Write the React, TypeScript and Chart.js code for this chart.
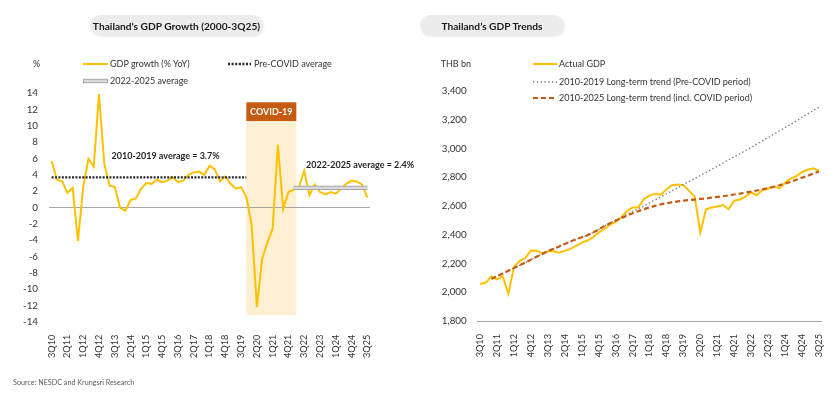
import React, { useEffect, useRef } from "react";
import { Chart, registerables } from "chart.js";

Chart.register(...registerables);

// ---------- DATA ----------
const quarters: string[] = [
  "3Q10", "4Q10",
  "1Q11", "2Q11", "3Q11", "4Q11",
  "1Q12", "2Q12", "3Q12", "4Q12",
  "1Q13", "2Q13", "3Q13", "4Q13",
  "1Q14", "2Q14", "3Q14", "4Q14",
  "1Q15", "2Q15", "3Q15", "4Q15",
  "1Q16", "2Q16", "3Q16", "4Q16",
  "1Q17", "2Q17", "3Q17", "4Q17",
  "1Q18", "2Q18", "3Q18", "4Q18",
  "1Q19", "2Q19", "3Q19", "4Q19",
  "1Q20", "2Q20", "3Q20", "4Q20",
  "1Q21", "2Q21", "3Q21", "4Q21",
  "1Q22", "2Q22", "3Q22", "4Q22",
  "1Q23", "2Q23", "3Q23", "4Q23",
  "1Q24", "2Q24", "3Q24", "4Q24",
  "1Q25", "2Q25", "3Q25",
];

// GDP growth, % YoY
const gdpGrowth: number[] = [
  5.7, 3.4,
  3.2, 1.8, 2.4, -4.1,
  2.5, 6.0, 5.0, 13.9,
  5.4, 2.7, 2.5, 0.0,
  -0.4, 0.9, 1.1, 2.3,
  3.0, 2.9, 3.4, 3.1,
  3.3, 3.7, 3.1, 3.3,
  4.0, 4.3, 4.4, 4.0,
  5.1, 4.7, 3.2, 3.8,
  2.9, 2.3, 2.5, 1.3,
  -2.1, -12.2, -6.3, -4.3,
  -2.6, 7.7, -0.2, 1.9,
  2.2, 2.5, 4.5, 1.5,
  2.8, 1.9, 1.6, 1.9,
  1.7, 2.3, 2.9, 3.3,
  3.2, 2.8, 1.2,
];

const preCovidAverage = 3.7;
const preCovidSpan: [string, string] = ["3Q10", "4Q19"];
const recentAverage = 2.4;
const recentSpan: [string, string] = ["1Q22", "3Q25"];
const covidSpan: [string, string] = ["4Q19", "1Q22"];

const growthTicks = { min: -14, max: 14, step: 2 };

// Actual GDP, THB bn
const actualGdp: number[] = [
  2057, 2066,
  2110, 2090, 2110, 1990,
  2175, 2218, 2238, 2290,
  2288, 2270, 2285, 2285,
  2275, 2288, 2302, 2322,
  2345, 2360, 2382, 2415,
  2440, 2470, 2490, 2520,
  2565, 2590, 2590, 2648,
  2672, 2685, 2678, 2715,
  2745, 2750, 2745, 2705,
  2665, 2414, 2577, 2590,
  2597, 2607, 2577, 2637,
  2645, 2665, 2695, 2675,
  2712, 2720, 2735, 2722,
  2762, 2790, 2808, 2835,
  2852, 2862, 2845,
];

// 2010-2019 long-term trend (pre-COVID period)
const trendPreCovid: (number | null)[] = [
  null, null,
  2093, 2112, 2131, 2150,
  2169, 2188, 2207, 2227,
  2247, 2266, 2285, 2302,
  2319, 2336, 2353, 2368,
  2382, 2397, 2415, 2437,
  2460, 2482, 2501, 2521,
  2541, 2561, 2581, 2601,
  2622, 2643, 2664, 2685,
  2706, 2727, 2749, 2770,
  2791, 2812, 2833, 2855,
  2876, 2898, 2920, 2942,
  2964, 2986, 3008, 3030,
  3053, 3076, 3099, 3122,
  3145, 3168, 3192, 3216,
  3240, 3263, 3287,
];

// 2010-2025 long-term trend (incl. COVID period)
const trendFull: (number | null)[] = [
  null, null,
  2093, 2112, 2131, 2150,
  2169, 2188, 2207, 2227,
  2247, 2266, 2285, 2302,
  2319, 2336, 2353, 2368,
  2382, 2397, 2415, 2437,
  2460, 2480, 2498, 2516,
  2533, 2549, 2564, 2578,
  2590, 2601, 2611, 2619,
  2626, 2632, 2637, 2641,
  2645, 2649, 2653, 2658,
  2663, 2668, 2674, 2680,
  2686, 2693, 2700, 2708,
  2716, 2725, 2734, 2744,
  2756, 2768, 2782, 2796,
  2810, 2825, 2840,
];

const gdpTicks = { min: 1800, max: 3400, step: 200 };

// ---------- STYLE ----------
const FONT = "Lato, 'Open Sans', sans-serif";
const TEXT = "#333333";
const GOLD = "#FFC000";
const RUST = "#C55A11";

function spanSeries(value: number, span: [string, string]): (number | null)[] {
  const a = quarters.indexOf(span[0]);
  const b = quarters.indexOf(span[1]);
  return quarters.map((_, i) => (i >= a && i <= b ? value : null));
}

const xTickCallback = (_v: any, idx: number) => (idx % 3 === 0 ? quarters[idx] : "");

const covidPlugin = {
  id: "covidBand",
  beforeDraw(chart: any) {
    const { ctx, scales } = chart;
    const x = scales.x;
    const y = scales.y;
    const a = quarters.indexOf(covidSpan[0]);
    const b = quarters.indexOf(covidSpan[1]);
    const half = (x.getPixelForValue(1) - x.getPixelForValue(0)) / 2;
    const left = x.getPixelForValue(a);
    const right = x.getPixelForValue(b) + half;
    const top = y.getPixelForValue(12.9);
    const headBottom = y.getPixelForValue(10.6);
    const bottom = y.getPixelForValue(-13.2);
    ctx.save();
    ctx.fillStyle = "#FDEFD2";
    ctx.fillRect(left, headBottom, right - left, bottom - headBottom);
    ctx.fillStyle = RUST;
    ctx.fillRect(left, top, right - left, headBottom - top);
    ctx.fillStyle = "#ffffff";
    ctx.font = `bold 9px ${FONT}`;
    ctx.textAlign = "center";
    ctx.textBaseline = "middle";
    ctx.fillText("COVID-19", (left + right) / 2, (top + headBottom) / 2 + 0.5);
    ctx.restore();
  },
};

const notesPlugin = {
  id: "avgNotes",
  afterDatasetsDraw(chart: any) {
    const { ctx, scales } = chart;
    const x = scales.x;
    const y = scales.y;
    ctx.save();
    ctx.fillStyle = "#262626";
    ctx.font = `bold 9px ${FONT}`;
    ctx.textAlign = "center";
    ctx.textBaseline = "middle";
    ctx.fillText(`2010-2019 average = ${preCovidAverage}%`, x.getPixelForValue(21.65), y.getPixelForValue(6.3));
    ctx.fillText(`2022-2025 average = ${recentAverage}%`, x.getPixelForValue(58.6), y.getPixelForValue(5.2));
    ctx.restore();
  },
};

function GrowthChart() {
  const ref = useRef<HTMLCanvasElement>(null);
  useEffect(() => {
    const chart = new Chart(ref.current!, {
      type: "line",
      data: {
        labels: quarters,
        datasets: [
          {
            label: "Pre-COVID average",
            data: spanSeries(preCovidAverage, preCovidSpan),
            borderColor: "#262626",
            borderWidth: 2.3,
            borderDash: [2, 1.4],
            pointRadius: 0,
            order: 0,
          },
          {
            label: "2022-2025 average",
            data: spanSeries(recentAverage, recentSpan),
            borderColor: "#D9D9D9",
            borderWidth: 2.2,
            pointRadius: 0,
            order: 0,
          },
          {
            label: "2022-2025 average outline",
            data: spanSeries(recentAverage, recentSpan),
            borderColor: "#A6A6A6",
            borderWidth: 4.4,
            pointRadius: 0,
            order: 1,
          },
          {
            label: "GDP growth (% YoY)",
            data: gdpGrowth,
            borderColor: GOLD,
            borderWidth: 2,
            pointRadius: 0,
            tension: 0,
            order: 2,
          },
        ],
      },
      options: {
        responsive: false,
        animation: false,
        events: [],
        layout: { padding: { top: 93.3, right: 50, left: 0, bottom: 0 } },
        plugins: { legend: { display: false }, tooltip: { enabled: false } },
        scales: {
          x: {
            offset: true,
            grid: { display: false },
            border: { display: false },
            ticks: {
              autoSkip: false,
              minRotation: 90,
              maxRotation: 90,
              padding: 5,
              color: TEXT,
              font: { family: FONT, size: 9.2 },
              callback: xTickCallback,
            },
            afterFit: (s: any) => { s.height = 73.3; },
          },
          y: {
            min: growthTicks.min,
            max: growthTicks.max,
            grid: {
              drawTicks: false,
              color: (c: any) => (c.tick && c.tick.value === 0 ? "#A6A6A6" : "rgba(0,0,0,0)"),
            },
            border: { display: false },
            ticks: {
              stepSize: growthTicks.step,
              padding: 11,
              color: TEXT,
              font: { family: FONT, size: 9.8 },
            },
            afterFit: (s: any) => { s.width = 49; },
          },
        },
      },
      plugins: [covidPlugin, notesPlugin],
    });
    return () => chart.destroy();
  }, []);
  return (
    <canvas
      ref={ref}
      width={420}
      height={395}
      style={{ position: "absolute", left: 0, top: 0, width: 420, height: 395 }}
    />
  );
}

function TrendChart() {
  const ref = useRef<HTMLCanvasElement>(null);
  useEffect(() => {
    const chart = new Chart(ref.current!, {
      type: "line",
      data: {
        labels: quarters,
        datasets: [
          {
            label: "2010-2025 Long-term trend (incl. COVID period)",
            data: trendFull,
            borderColor: RUST,
            borderWidth: 2.2,
            borderDash: [5, 3],
            pointRadius: 0,
            order: 0,
          },
          {
            label: "2010-2019 Long-term trend (Pre-COVID period)",
            data: trendPreCovid,
            borderColor: "#7F7F7F",
            borderWidth: 1.4,
            borderDash: [1.4, 2.4],
            pointRadius: 0,
            order: 1,
          },
          {
            label: "Actual GDP",
            data: actualGdp,
            borderColor: GOLD,
            borderWidth: 2,
            pointRadius: 0,
            tension: 0,
            order: 2,
          },
        ],
      },
      options: {
        responsive: false,
        animation: false,
        events: [],
        layout: { padding: { top: 91, right: 18.3, left: 0, bottom: 0 } },
        plugins: { legend: { display: false }, tooltip: { enabled: false } },
        scales: {
          x: {
            offset: true,
            grid: { display: false },
            border: { display: false },
            ticks: {
              autoSkip: false,
              minRotation: 90,
              maxRotation: 90,
              padding: 5,
              color: TEXT,
              font: { family: FONT, size: 9.2 },
              callback: xTickCallback,
            },
            afterFit: (s: any) => { s.height = 74; },
          },
          y: {
            min: gdpTicks.min,
            max: gdpTicks.max,
            grid: {
              drawTicks: false,
              color: (c: any) => (c.tick && c.tick.value === gdpTicks.min ? "#A6A6A6" : "rgba(0,0,0,0)"),
            },
            border: { display: false },
            ticks: {
              stepSize: gdpTicks.step,
              padding: 10.6,
              color: TEXT,
              font: { family: FONT, size: 9.8 },
              callback: (v: any) => Number(v).toLocaleString("en-US"),
            },
            afterFit: (s: any) => { s.width = 57.3; },
          },
        },
      },
    });
    return () => chart.destroy();
  }, []);
  return (
    <canvas
      ref={ref}
      width={420}
      height={395}
      style={{ position: "absolute", left: 420, top: 0, width: 420, height: 395 }}
    />
  );
}

function Label(props: { x: number; y: number; text: string; size?: number; bold?: boolean; color?: string }) {
  const size = props.size ?? 9;
  return (
    <div
      style={{
        position: "absolute",
        left: props.x,
        top: props.y - 6,
        height: 12,
        lineHeight: "12px",
        fontSize: size,
        fontWeight: props.bold ? 700 : 400,
        color: props.color ?? TEXT,
        whiteSpace: "nowrap",
      }}
    >
      {props.text}
    </div>
  );
}

function Sample(props: { x: number; y: number; w: number; kind: "solid" | "dots" | "bar" | "grayDots" | "dash" }) {
  const { x, y, w, kind } = props;
  let inner: React.ReactNode = null;
  if (kind === "solid") inner = <line x1={0} y1={5} x2={w} y2={5} stroke={GOLD} strokeWidth={2} />;
  if (kind === "dots") inner = <line x1={0} y1={5} x2={w} y2={5} stroke="#262626" strokeWidth={2.3} strokeDasharray="2 1.6" />;
  if (kind === "grayDots") inner = <line x1={0} y1={5} x2={w} y2={5} stroke="#7F7F7F" strokeWidth={1.4} strokeDasharray="1.4 2.4" />;
  if (kind === "dash") inner = <line x1={0} y1={5} x2={w} y2={5} stroke={RUST} strokeWidth={2.2} strokeDasharray="5 3" />;
  if (kind === "bar")
    inner = <rect x={0.5} y={3.3} width={w - 1} height={3.4} fill="#D9D9D9" stroke="#A6A6A6" strokeWidth={1} />;
  return (
    <svg width={w} height={10} style={{ position: "absolute", left: x, top: y - 5 }}>
      {inner}
    </svg>
  );
}

function Pill(props: { x: number; w: number; text: string }) {
  return (
    <div
      style={{
        position: "absolute",
        left: props.x,
        top: 15,
        width: props.w,
        height: 21,
        borderRadius: 11,
        background: "#EDECEC",
        boxShadow: "1px 1px 2px rgba(0,0,0,0.08)",
        display: "flex",
        alignItems: "center",
        justifyContent: "center",
        fontSize: 10.2,
        fontWeight: 700,
        color: "#1a1a1a",
        whiteSpace: "nowrap",
      }}
    >
      {props.text}
    </div>
  );
}

export default function App() {
  return (
    <div
      style={{
        position: "absolute",
        left: 0,
        top: 0,
        width: 840,
        height: 395,
        background: "#ffffff",
        fontFamily: FONT,
        overflow: "hidden",
      }}
    >
      <GrowthChart />
      <TrendChart />

      <Pill x={90} w={173} text="Thailand’s GDP Growth (2000-3Q25)" />
      <Pill x={420} w={144} text="Thailand’s GDP Trends" />

      {/* left legend */}
      <Label x={33} y={64} text="%" />
      <Sample x={83} y={64} w={25} kind="solid" />
      <Label x={110} y={64} text="GDP growth (% YoY)" />
      <Sample x={228} y={64} w={23} kind="dots" />
      <Label x={254} y={64} text="Pre-COVID average" />
      <Sample x={83} y={81} w={25} kind="bar" />
      <Label x={110} y={81} text="2022-2025 average" />

      {/* right legend */}
      <Label x={440.7} y={64} text="THB bn" />
      <Sample x={532.7} y={64} w={24} kind="solid" />
      <Label x={559} y={64} text="Actual GDP" />
      <Sample x={532.7} y={81.7} w={24} kind="grayDots" />
      <Label x={559} y={81.7} text="2010-2019 Long-term trend (Pre-COVID period)" />
      <Sample x={532.7} y={98.3} w={24} kind="dash" />
      <Label x={559} y={98.3} text="2010-2025 Long-term trend (incl. COVID period)" />

      <Label x={13} y={383} text="Source: NESDC and Krungsri Research" size={7.2} color="#595959" />
    </div>
  );
}
